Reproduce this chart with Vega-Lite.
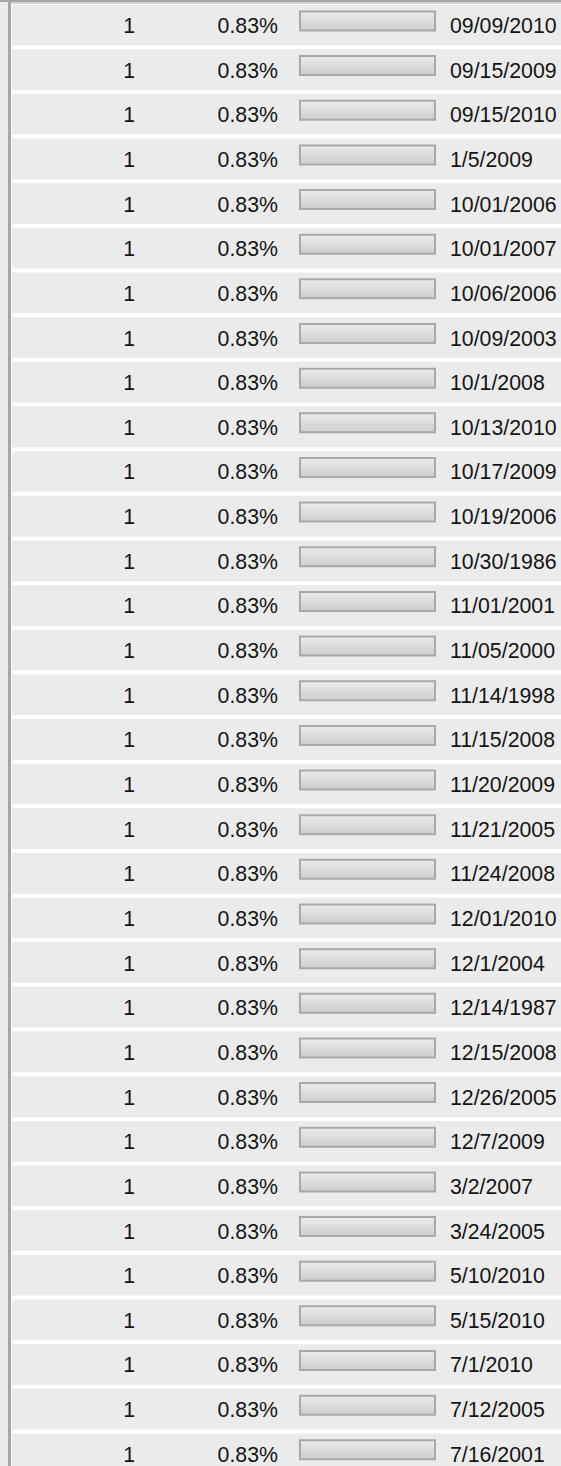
{
  "$schema": "https://vega.github.io/schema/vega-lite/v6.json",
  "width": 561,
  "height": 1466,
  "autosize": {"type": "none"},
  "padding": 0,
  "background": "#ebebeb",
  "config": {"view": {"stroke": null}, "text": {"font": "Liberation Sans", "fontSize": 21.3, "color": "#141414"}},
  "data": {"values": [
    {"count": 1, "pct": 0.0083, "date": "09/09/2010"},
    {"count": 1, "pct": 0.0083, "date": "09/15/2009"},
    {"count": 1, "pct": 0.0083, "date": "09/15/2010"},
    {"count": 1, "pct": 0.0083, "date": "1/5/2009"},
    {"count": 1, "pct": 0.0083, "date": "10/01/2006"},
    {"count": 1, "pct": 0.0083, "date": "10/01/2007"},
    {"count": 1, "pct": 0.0083, "date": "10/06/2006"},
    {"count": 1, "pct": 0.0083, "date": "10/09/2003"},
    {"count": 1, "pct": 0.0083, "date": "10/1/2008"},
    {"count": 1, "pct": 0.0083, "date": "10/13/2010"},
    {"count": 1, "pct": 0.0083, "date": "10/17/2009"},
    {"count": 1, "pct": 0.0083, "date": "10/19/2006"},
    {"count": 1, "pct": 0.0083, "date": "10/30/1986"},
    {"count": 1, "pct": 0.0083, "date": "11/01/2001"},
    {"count": 1, "pct": 0.0083, "date": "11/05/2000"},
    {"count": 1, "pct": 0.0083, "date": "11/14/1998"},
    {"count": 1, "pct": 0.0083, "date": "11/15/2008"},
    {"count": 1, "pct": 0.0083, "date": "11/20/2009"},
    {"count": 1, "pct": 0.0083, "date": "11/21/2005"},
    {"count": 1, "pct": 0.0083, "date": "11/24/2008"},
    {"count": 1, "pct": 0.0083, "date": "12/01/2010"},
    {"count": 1, "pct": 0.0083, "date": "12/1/2004"},
    {"count": 1, "pct": 0.0083, "date": "12/14/1987"},
    {"count": 1, "pct": 0.0083, "date": "12/15/2008"},
    {"count": 1, "pct": 0.0083, "date": "12/26/2005"},
    {"count": 1, "pct": 0.0083, "date": "12/7/2009"},
    {"count": 1, "pct": 0.0083, "date": "3/2/2007"},
    {"count": 1, "pct": 0.0083, "date": "3/24/2005"},
    {"count": 1, "pct": 0.0083, "date": "5/10/2010"},
    {"count": 1, "pct": 0.0083, "date": "5/15/2010"},
    {"count": 1, "pct": 0.0083, "date": "7/1/2010"},
    {"count": 1, "pct": 0.0083, "date": "7/12/2005"},
    {"count": 1, "pct": 0.0083, "date": "7/16/2001"}
  ]},
  "encoding": {
    "y": {"field": "date", "type": "ordinal", "sort": null, "axis": null,
          "scale": {"type": "band", "range": [4.65, 1474.1], "paddingInner": 0.0896, "paddingOuter": 0}}
  },
  "layer": [
    {
      "data": {"values": [{}]},
      "mark": {"type": "rect", "color": "#ffffff"},
      "encoding": {"y": null, "x": {"value": 11}, "x2": {"value": 561}, "y": {"value": 2}, "y2": {"value": 1466}}
    },
    {
      "data": {"values": [{}]},
      "mark": {"type": "rule", "color": "#d0d0d0", "strokeWidth": 2},
      "encoding": {"x": {"value": 8}, "x2": {"value": 561}, "y": {"value": 3}}
    },
    {
      "data": {"values": [{}]},
      "mark": {"type": "rule", "color": "#a6a6a6", "strokeWidth": 2},
      "encoding": {"x": {"value": 0}, "x2": {"value": 561}, "y": {"value": 1}}
    },
    {
      "data": {"values": [{}]},
      "mark": {"type": "rule", "color": "#a6a6a6", "strokeWidth": 3},
      "encoding": {"x": {"value": 9.5}, "y": {"value": 0}, "y2": {"value": 1466}}
    },
    {
      "mark": {"type": "rect", "color": "#ebebeb"},
      "encoding": {"x": {"value": 12}, "x2": {"value": 561}}
    },
    {
      "mark": {"type": "bar", "height": 19, "yOffset": -4, "stroke": "#a9a9a9", "strokeWidth": 2,
               "color": {"gradient": "linear", "x1": 0, "y1": 0, "x2": 0, "y2": 1,
                         "stops": [{"offset": 0, "color": "#ececec"}, {"offset": 1, "color": "#cdcdcd"}]}},
      "encoding": {
        "x": {"field": "pct", "type": "quantitative", "axis": null,
              "scale": {"domain": [0, 0.0083], "range": [300, 435], "nice": false, "zero": true}},
        "x2": {"datum": 0}
      }
    },
    {
      "mark": {"type": "text", "align": "right", "baseline": "alphabetic", "dy": 8},
      "encoding": {"x": {"value": 135}, "text": {"field": "count", "type": "quantitative"}}
    },
    {
      "mark": {"type": "text", "align": "right", "baseline": "alphabetic", "dy": 8},
      "encoding": {"x": {"value": 278}, "text": {"field": "pct", "type": "quantitative", "format": ".2%"}}
    },
    {
      "mark": {"type": "text", "align": "left", "baseline": "alphabetic", "dy": 8},
      "encoding": {"x": {"value": 450}, "text": {"field": "date", "type": "nominal"}}
    }
  ]
}
